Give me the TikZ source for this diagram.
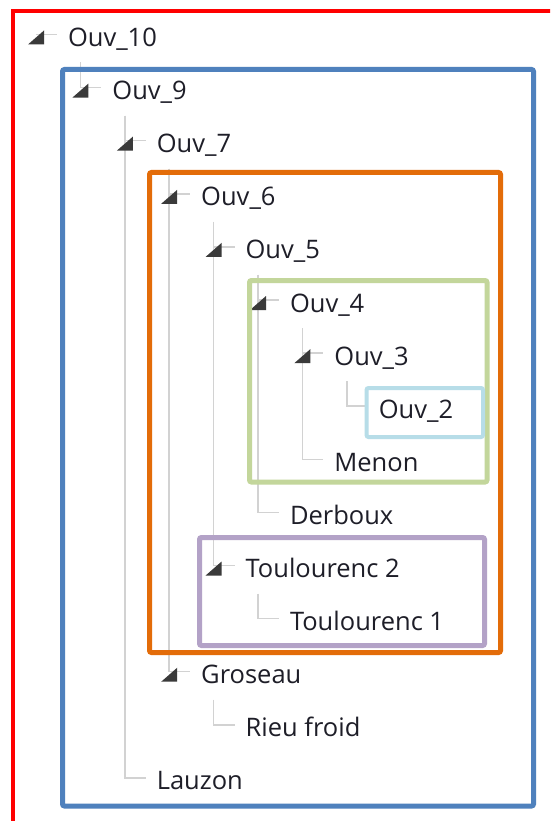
\documentclass[tikz,border=0pt]{standalone}
\usepackage{fontspec}
\setmainfont{Open Sans}
\definecolor{txtcol}{RGB}{30,30,40}
\definecolor{linecol}{RGB}{210,210,210}
\definecolor{tricol}{RGB}{58,58,58}
\definecolor{redbox}{RGB}{255,0,0}
\definecolor{bluebox}{RGB}{79,129,189}
\definecolor{orangebox}{RGB}{227,108,9}
\definecolor{greenbox}{RGB}{195,214,155}
\definecolor{lightbluebox}{RGB}{183,221,232}
\definecolor{purplebox}{RGB}{179,162,199}
\newcommand\treeitem[4]{%
  \pgfmathsetmacro\tx{68+44.4*#2}%
  \pgfmathsetmacro\ty{38.5+53.1*#3}%
  \node[lbl] (#1) at (\tx,\ty+8) {#4};%
  \coordinate (#1-v) at ({36+44.4*#2},\ty-4);%
  \coordinate (#1-e) at ({57+44.4*#2},\ty-4);%
  \coordinate (#1-d) at ({80.4+44.4*#2},\ty+24);%
}
\begin{document}
\begin{tikzpicture}[x=1pt,y=-1pt,
  lbl/.style={anchor=base west,inner sep=0pt,outer sep=0pt,text=txtcol,font=\fontsize{25.5}{30}\selectfont},
  tline/.style={draw=linecol,line width=1.5pt},
  frame/.style={line width=5pt,rounded corners=2pt},
  expander/.pic={\fill[tricol] (-8,10) -- (8,10) -- (8,-4) -- cycle;}
]
\useasboundingbox (0,0) rectangle (550,821);
\clip (0,0) rectangle (550,821);
\fill[white] (0,0) rectangle (550,821);
% items
\treeitem{o10}{0}{0}{Ouv\_10}
\treeitem{o9}{1}{1}{Ouv\_9}
\treeitem{o7}{2}{2}{Ouv\_7}
\treeitem{o6}{3}{3}{Ouv\_6}
\treeitem{o5}{4}{4}{Ouv\_5}
\treeitem{o4}{5}{5}{Ouv\_4}
\treeitem{o3}{6}{6}{Ouv\_3}
\treeitem{o2}{7}{7}{Ouv\_2}
\treeitem{men}{6}{8}{Menon}
\treeitem{der}{5}{9}{Derboux}
\treeitem{tt2}{4}{10}{Toulourenc 2}
\treeitem{tt1}{5}{11}{Toulourenc 1}
\treeitem{gro}{3}{12}{Groseau}
\treeitem{rieu}{4}{13}{Rieu froid}
\treeitem{lau}{2}{14}{Lauzon}
% connectors
\draw[tline] (o10-v) -- (o10-e);
\draw[tline] (o10-d) |- (o9-e);
\draw[tline] (o9-d) |- (o7-e);
\draw[tline] (o9-d) |- (lau-e);
\draw[tline] (o7-d) |- (o6-e);
\draw[tline] (o7-d) |- (gro-e);
\draw[tline] (o6-d) |- (o5-e);
\draw[tline] (o6-d) |- (tt2-e);
\draw[tline] (o5-d) |- (o4-e);
\draw[tline] (o5-d) |- (der-e);
\draw[tline] (o4-d) |- (o3-e);
\draw[tline] (o4-d) |- (men-e);
\draw[tline] (o3-d) |- (o2-e);
\draw[tline] (tt2-d) |- (tt1-e);
\draw[tline] (gro-d) |- (rieu-e);
% expanders
\foreach \n in {o10,o9,o7,o6,o5,o4,o3,tt2,gro}{\pic at (\n-v) {expander};}
% frames
\draw[redbox,line width=4pt] (13,840) -- (13,11) -- (570,11);
\draw[frame,bluebox] (62.5,69.5) rectangle (533.5,806);
\draw[frame,orangebox] (149.5,172.5) rectangle (500.5,652.5);
\draw[frame,greenbox] (249.5,280.5) rectangle (487,482);
\draw[frame,lightbluebox,line width=4pt] (366.5,388) rectangle (483,437);
\draw[frame,purplebox] (199.5,537.5) rectangle (484.5,645.5);
\end{tikzpicture}
\end{document}
